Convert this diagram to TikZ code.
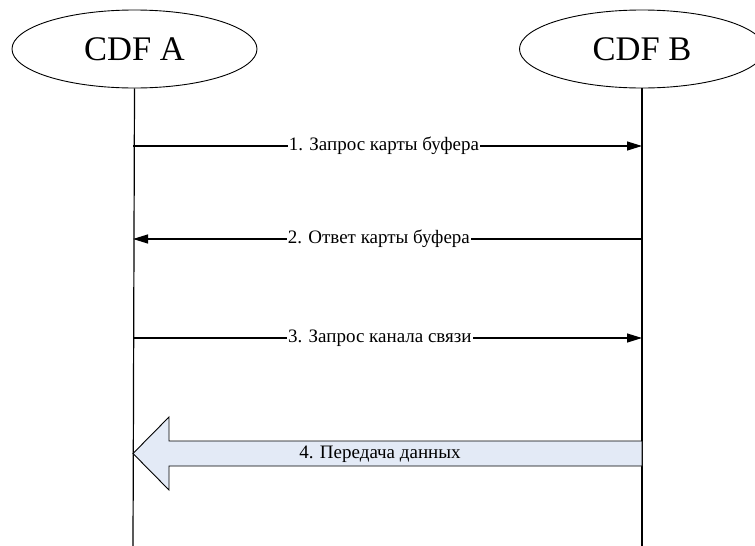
\documentclass[tikz,border=0pt]{standalone}
\usepackage{fontspec}
\setmainfont{Liberation Serif}
\usetikzlibrary{shapes.geometric,arrows.meta}
\definecolor{arrowfill}{RGB}{227,234,246}
\begin{document}
\begin{tikzpicture}[x=1pt,y=-1pt,
  party/.style={ellipse,draw,line width=0.9pt,minimum width=245pt,minimum height=78pt,inner sep=0pt,font=\fontsize{34.5}{38}\selectfont},
  life/.style={line width=1.2pt},
  msg/.style={line width=1.2pt,-{Triangle[length=15pt,width=9pt]}},
  msglabel/.style={fill=white,inner sep=1pt,font=\fontsize{19}{22}\selectfont},
  bigarrow/.style={draw,line width=0.9pt,fill=arrowfill}]
\useasboundingbox (0,0) rectangle (755,546);
\begin{scope}
\clip (0,0) rectangle (755,546);
\node[party] (A) at (134.5,49) {CDF A};
\node[party] (B) at (642,49) {CDF B};
\end{scope}
% lifelines
\coordinate (Aend) at (133,546);
\coordinate (Bend) at (642,546);
\draw[life] (A.south) -- (Aend);
\draw[life] (B.south) -- (Bend);
% message anchors on the lifelines
\coordinate (a1) at (133,146); \coordinate (b1) at (642,146);
\coordinate (a2) at (133,239); \coordinate (b2) at (642,239);
\coordinate (a3) at (133,338); \coordinate (b3) at (642,338);
\draw[msg] (a1) -- node[msglabel,pos=0.493] (m1) {1. Запрос карты буфера} (b1);
\draw[msg] (b2) -- node[msglabel,pos=0.517] (m2) {2. Ответ карты буфера} (a2);
\draw[msg] (a3) -- node[msglabel,pos=0.485] (m3) {3. Запрос канала связи} (b3);
% block arrow for the data transfer
\draw[bigarrow] (642,441) -- (169,441) -- (169,417) -- (133,453.5) -- (169,490) -- (169,466) -- (642,466) -- cycle;
\node[font=\fontsize{19}{22}\selectfont,inner sep=0pt] (m4) at (380,454) {4. Передача данных};
\end{tikzpicture}
\end{document}
